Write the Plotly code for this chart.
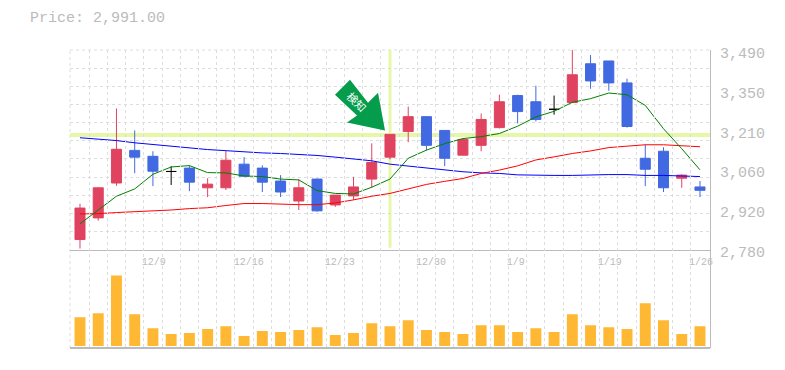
import plotly.graph_objects as go

# --- data -------------------------------------------------------------
idx = list(range(35))
opens = [2816,2893,3017,3133,3112,3058,3070,3000,3000,3084,3070,3024,2953,3031,2939,2971,3031,3109,3200,3253,3204,3116,3151,3214,3328,3306,3279,3303,3441,3451,3373,3105,3130,3034,3003]
highs = [2943,3001,3282,3204,3130,3077,3078,3034,3132,3109,3080,3045,3031,3033,2974,3039,3158,3190,3289,3253,3204,3175,3264,3331,3331,3363,3328,3490,3472,3451,3388,3154,3144,3048,3024]
lows  = [2784,2883,3007,3052,3006,3010,2988,2967,2992,3041,2985,2967,2921,2915,2932,2957,3000,3101,3162,3133,3077,3116,3130,3211,3229,3236,3260,3303,3352,3345,3214,3006,2985,3000,2967]
closes= [2928,3000,3137,3109,3059,3058,3020,3013,3098,3041,3020,2985,3000,2918,2974,3003,3090,3190,3253,3151,3105,3172,3243,3306,3271,3243,3279,3402,3380,3373,3218,3066,3000,3045,2991]
ma_short = [2872,2922,2970,2996,3048,3074,3079,3054,3053,3042,3040,3031,3028,2990,2980,2978,3002,3031,3105,3134,3157,3175,3182,3193,3219,3252,3272,3304,3317,3337,3331,3293,3210,3139,3064]
ma_mid   = [2907,2908,2912,2915,2917,2921,2926,2929,2937,2944,2944,2941,2940,2940,2946,2957,2970,2980,2996,3012,3023,3033,3051,3063,3078,3099,3110,3122,3131,3143,3148,3153,3153,3150,3146]
ma_long  = [3178,3173,3168,3160,3154,3146,3140,3136,3132,3127,3124,3122,3119,3115,3109,3103,3096,3084,3077,3070,3064,3057,3053,3051,3046,3044,3044,3044,3046,3047,3047,3044,3044,3041,3040]
volumes  = [2900,3300,7100,3200,1800,1200,1300,1700,2000,1000,1500,1400,1600,1900,1100,1300,2300,2000,2600,1600,1400,1200,2100,2100,1400,1800,1400,3200,2100,1900,1700,4300,2600,1200,2000]
price_ticks = [3490,3348,3206,3064,2922,2780]
price_labels = ["3,490","3,350","3,210","3,060","2,920","2,780"]
date_ticks = [4.05,9.25,14.25,19.25,23.9,29.05,34.05]
date_labels = ["12/9","12/16","12/23","12/30","1/9","1/19","1/26"]
cross_price = 3188
cross_index = 17
price_text = "Price: 2,991.00"
signal_text = "検知"

GRID = "#dddddd"; AXIS = "#bbbbbb"; TXT = "#bbbbbb"
RED = "#e0435f"; BLUE = "#4169e1"; CROSS = "#e6f7a8"; ORANGE = "#ffb833"; ARROW = "#059c4b"
MONO = "Liberation Mono"
DASH = "3px,3px"
XRANGE = [-0.548, 34.55]

W, H = 785, 370
L, R, T, B = 70, 710, 50, 350
pw, ph = R - L, B - T
def dy(p): return (B - p) / ph
def px(x): return (x - L) / pw

up = [i for i in idx if closes[i] > opens[i]]
dn = [i for i in idx if closes[i] < opens[i]]
dj = [i for i in idx if closes[i] == opens[i]]
def candle(ids, color):
    side = dict(line=dict(color=color, width=1), fillcolor=color)
    return go.Candlestick(x=ids, open=[opens[i] for i in ids], high=[highs[i] for i in ids],
                          low=[lows[i] for i in ids], close=[closes[i] for i in ids],
                          xaxis="x", yaxis="y2", whiskerwidth=0, increasing=side, decreasing=side,
                          hoverinfo="skip", showlegend=False)

fig = go.Figure()
fig.add_trace(go.Scatter(x=[0], y=[0.5], xaxis="x2", yaxis="y", mode="none", hoverinfo="skip", showlegend=False))
for vals, col in ((ma_long, "#0000ff"), (ma_mid, "#ff0000"), (ma_short, "#008000")):
    fig.add_trace(go.Scatter(x=idx, y=vals, xaxis="x", yaxis="y2", mode="lines",
                             line=dict(color=col, width=1), hoverinfo="skip", showlegend=False))
fig.add_trace(candle(up, RED)); fig.add_trace(candle(dn, BLUE)); fig.add_trace(candle(dj, "#000000"))
fig.add_trace(go.Bar(x=idx, y=volumes, width=0.6, xaxis="x", yaxis="y3", marker=dict(color=ORANGE, line=dict(width=0)),
                     hoverinfo="skip", showlegend=False))
fig.add_trace(go.Scatter(x=[0], y=[3490], xaxis="x", yaxis="y4", mode="none", hoverinfo="skip", showlegend=False))

hgrid = [3490 - k * 710 / 11 for k in range(1, 11)]
vgrid = [i - 0.5 for i in range(1, 35)]

arrow = [(350,80),(335,95),(357,116),(347,123),(385,131),(378,93),(368,103)]
path = "M " + " L ".join(f"{px(x):.5f} {dy(y):.5f}" for x, y in arrow) + " Z"

fig.update_layout(
    width=W, height=H, autosize=False, margin=dict(l=L, r=W-R, t=T, b=H-B, pad=0),
    paper_bgcolor="white", plot_bgcolor="rgba(0,0,0,0)", showlegend=False,
    boxgap=0.45, boxgroupgap=0, boxmode="overlay", bargap=0.4, dragmode=False,
    xaxis=dict(domain=[0,1], range=XRANGE, anchor="y2", showgrid=False, zeroline=False,
               rangeslider=dict(visible=False), tickmode="array", tickvals=date_ticks, ticktext=date_labels,
               tickfont=dict(family=MONO, size=10, color=TXT), ticks="outside", ticklen=2, tickcolor="rgba(0,0,0,0)",
               showline=True, linecolor=AXIS, linewidth=1),
    xaxis2=dict(domain=[0,1], range=XRANGE, anchor="y", showgrid=True, gridcolor=GRID, griddash=DASH, gridwidth=1, zeroline=False,
                tickmode="array", tickvals=vgrid, showticklabels=False, ticks=""),
    yaxis=dict(domain=[0,1], range=[0,1], anchor="x2", side="right", showgrid=False, zeroline=False, showticklabels=False,
               ticks="", showline=True, linecolor=AXIS, linewidth=1),
    yaxis2=dict(domain=[dy(251),1], range=[2780,3490], anchor="x", showgrid=True, gridcolor=GRID, griddash=DASH, gridwidth=1,
                zeroline=False, showticklabels=False, tickmode="array", tickvals=hgrid, ticks=""),
    yaxis3=dict(domain=[0,dy(270)], range=[-200,7800], anchor="x", showgrid=False, zeroline=False, showticklabels=False, ticks=""),
    yaxis4=dict(domain=[dy(253),dy(53)], range=[2780,3490], anchor="x", side="right", showgrid=False, zeroline=False,
                tickmode="array", tickvals=price_ticks, ticktext=price_labels,
                tickfont=dict(family=MONO, size=15, color=TXT), ticks="outside", ticklen=6, tickcolor="rgba(0,0,0,0)"),
    shapes=[
        dict(type="line", xref="paper", yref="paper", x0=0, x1=1, y0=1, y1=1, line=dict(color=GRID, width=1, dash=DASH), layer="below"),
        dict(type="line", xref="paper", yref="paper", x0=0, x1=0, y0=0, y1=1, line=dict(color=GRID, width=1, dash=DASH), layer="below"),
        dict(type="line", xref="paper", yref="y2", x0=0, x1=1, y0=cross_price, y1=cross_price, line=dict(color=CROSS, width=4), layer="below"),
        dict(type="line", xref="x", yref="y2", x0=cross_index, x1=cross_index, y0=2787, y1=3490, line=dict(color=CROSS, width=3), layer="below"),
        dict(type="line", xref="paper", yref="paper", x0=0, x1=1, y0=0, y1=0, line=dict(color=AXIS, width=2), layer="above"),
        dict(type="path", xref="paper", yref="paper", path=path, fillcolor=ARROW, line=dict(width=0), layer="above"),
    ],
    annotations=[
        dict(xref="paper", yref="paper", x=px(28), y=dy(18), xanchor="left", yanchor="middle", text=price_text, showarrow=False,
             font=dict(family=MONO, size=15, color=TXT)),
        dict(xref="paper", yref="paper", x=px(356.5), y=dy(101.5), xanchor="center", yanchor="middle", text=signal_text, showarrow=False,
             textangle=45, font=dict(family="Noto Sans CJK JP", size=11, color="white")),
    ],
)
fig.write_html("out.html", config=dict(displayModeBar=False), post_script="document.body.style.margin='0';")
